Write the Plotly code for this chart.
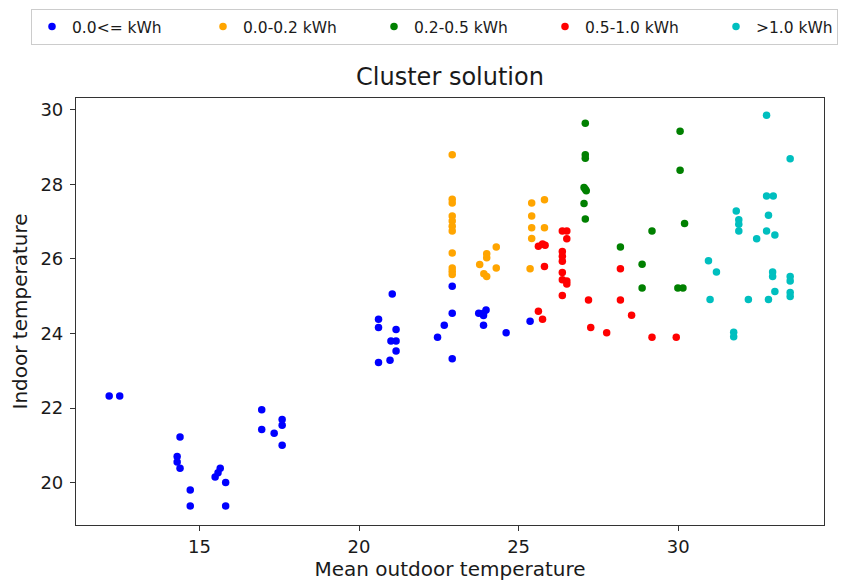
import plotly.graph_objects as go

# ---- data ----
labels = ["0.0<= kWh", "0.0-0.2 kWh", "0.2-0.5 kWh", "0.5-1.0 kWh", ">1.0 kWh"]
colors = ["#0000ff", "#ffa500", "#008000", "#ff0000", "#00bfbf"]

blue_x = [12.17, 12.5, 14.39, 14.3, 14.3, 14.39, 14.71, 14.71, 15.65, 15.58, 15.49, 15.82, 15.82,
          16.95, 16.95, 17.34, 17.59, 17.59, 17.59, 21.04, 20.61, 20.61, 21.16, 21.0, 21.16, 21.16,
          20.61, 20.97, 22.92, 22.92, 22.67, 22.46, 22.92, 23.75, 23.9, 23.98, 23.9, 23.9, 24.61, 25.36]
blue_y = [22.32, 22.32, 21.22, 20.7, 20.55, 20.38, 19.8, 19.37, 20.38, 20.26, 20.15, 20.0, 19.37,
          21.95, 21.42, 21.32, 21.69, 21.54, 21.0, 25.06, 24.38, 24.16, 24.11, 23.8, 23.8, 23.53,
          23.22, 23.28, 25.27, 24.54, 24.22, 23.9, 23.32, 24.54, 24.54, 24.63, 24.48, 24.22, 24.02, 24.33]

orange_x = [22.92, 22.92, 22.92, 22.92, 22.92, 22.92, 22.92, 22.92, 22.92, 22.92, 22.92,
            24.3, 24.0, 24.0, 23.78, 23.91, 24.0, 24.3, 25.41, 25.81, 25.41, 25.41, 25.81, 25.41, 25.36]
orange_y = [28.8, 27.6, 27.5, 27.15, 27.02, 26.88, 26.75, 26.16, 25.76, 25.67, 25.58,
            26.32, 26.14, 26.03, 25.85, 25.6, 25.53, 25.76, 27.5, 27.59, 27.15, 26.84, 26.84, 26.55, 25.74]

green_x = [27.09, 27.09, 27.09, 27.05, 27.09, 27.12, 27.05, 27.09, 28.19, 30.06, 30.06, 30.2,
           29.18, 28.87, 28.87, 29.99, 30.15]
green_y = [29.64, 28.8, 28.7, 27.92, 27.87, 27.83, 27.49, 27.07, 26.32, 29.43, 28.38, 26.95,
           26.75, 25.86, 25.22, 25.22, 25.22]

red_x = [25.62, 25.75, 25.83, 25.81, 25.62, 25.75, 26.37, 26.51, 26.51, 26.37, 26.37, 26.37,
         26.37, 26.37, 26.51, 26.51, 26.37, 27.19, 27.26, 27.76, 28.19, 28.19, 28.54, 29.18, 29.94]
red_y = [26.34, 26.4, 26.37, 25.8, 24.6, 24.38, 26.75, 26.75, 26.54, 26.2, 26.07, 25.94,
         25.64, 25.44, 25.41, 25.33, 25.02, 24.9, 24.16, 24.02, 24.9, 25.74, 24.49, 23.9, 23.9]

cyan_x = [30.95, 31.0, 32.77, 33.51, 32.77, 32.98, 32.83, 31.82, 31.9, 31.9, 31.9, 32.77, 33.03,
          32.46, 31.2, 32.96, 32.96, 33.51, 33.51, 33.03, 33.51, 33.51, 32.2, 32.83, 31.74, 31.74]
cyan_y = [25.95, 24.91, 29.86, 28.69, 27.69, 27.69, 27.17, 27.29, 27.05, 26.93, 26.75, 26.75, 26.64,
          26.54, 25.65, 25.65, 25.53, 25.53, 25.41, 25.13, 25.1, 24.99, 24.91, 24.91, 24.03, 23.91]

series_x = [blue_x, orange_x, green_x, red_x, cyan_x]
series_y = [blue_y, orange_y, green_y, red_y, cyan_y]

x_ticks = [15, 20, 25, 30]
y_ticks = [20, 22, 24, 26, 28, 30]

FONT = "DejaVu Sans"
TXT = "#1a1a1a"

# page body has an 8px margin: figure is sized/placed to compensate
W, H = 845, 580
ML, MR, MT, MB = 68, 29, 90, 63
PW, PH = W - ML - MR, H - MT - MB

fig = go.Figure()
for i, (name, col, xs, ys) in enumerate(zip(labels, colors, series_x, series_y)):
    fig.add_trace(go.Scatter(
        x=xs, y=ys, mode="markers", name=name,
        marker=dict(color=col, size=7.5, line=dict(width=0)),
        legendwidth=(76 if i == len(labels) - 1 else None),
    ))

axis_common = dict(
    showgrid=False, zeroline=False, showline=True, linecolor="#333333", linewidth=1.2,
    mirror=True, ticks="outside", ticklen=5, tickwidth=1, tickcolor="#333333",
    tickfont=dict(family=FONT, size=18, color=TXT),
)

fig.update_layout(
    width=W, height=H,
    margin=dict(l=ML, r=MR, t=MT, b=MB, autoexpand=False),
    paper_bgcolor="white", plot_bgcolor="white",
    font=dict(family=FONT, color=TXT),
    title=dict(text="Cluster solution", x=0.5, xref="paper", xanchor="center",
               y=1 - 69 / H, yref="container", yanchor="middle",
               font=dict(family=FONT, size=24, color=TXT)),
    xaxis=dict(range=[11.13, 34.57], tickvals=x_ticks,
               title=dict(text="Mean outdoor temperature", standoff=5,
                          font=dict(family=FONT, size=20, color=TXT)),
               **axis_common),
    yaxis=dict(range=[18.86, 30.32], tickvals=y_ticks, ticklabelstandoff=3,
               title=dict(text="Indoor temperature", standoff=11,
                          font=dict(family=FONT, size=20, color=TXT)),
               **axis_common),
    legend=dict(orientation="h", xref="paper", yref="paper",
                x=(23 - ML) / PW, xanchor="left", y=1 + (MT - 1) / PH, yanchor="top",
                entrywidth=126, entrywidthmode="pixels",
                bordercolor="#cccccc", borderwidth=1, bgcolor="white",
                font=dict(family=FONT, size=15.5, color=TXT),
                itemsizing="trace"),
    showlegend=True,
)

fig.write_html("out.html")
